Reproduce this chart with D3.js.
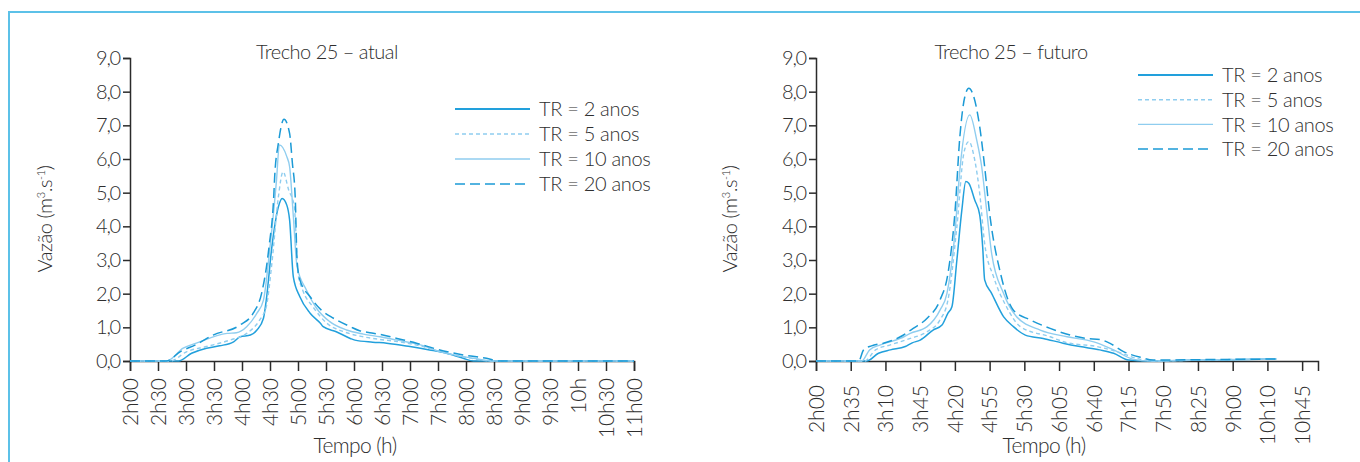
<!DOCTYPE html>
<html>
<head>
<meta charset="utf-8">
<script src="https://cdn.jsdelivr.net/npm/d3@7"></script>
<style>
  html, body { margin: 0; padding: 0; background: #fff; }
  svg { display: block; }
  text { font-family: Lato, "Open Sans", sans-serif; font-weight: 300; fill: #2e2e2e; }
</style>
</head>
<body>
<svg id="chart" width="1360" height="462"></svg>
<script>
// ---------- DATA (time in minutes after midnight, flow in m3/s) ----------
const seriesNames = ["TR = 2 anos", "TR = 5 anos", "TR = 10 anos", "TR = 20 anos"];

const leftTitle = "Trecho 25 – atual";
const rightTitle = "Trecho 25 – futuro";

const leftTickValues = [120,150,180,210,240,270,300,330,360,390,420,450,480,510,540,570,600,630,660];
const leftTickLabels = ["2h00","2h30","3h00","3h30","4h00","4h30","5h00","5h30","6h00","6h30","7h00","7h30","8h00","8h30","9h00","9h30","10h","10h30","11h00"];

const rightTickValues = [120,155,190,225,260,295,330,365,400,435,470,505,540,575,610];
const rightTickLabels = ["2h00","2h35","3h10","3h45","4h20","4h55","5h30","6h05","6h40","7h15","7h50","8h25","9h00","10h10","10h45"];

const yTickValues = [0,1,2,3,4,5,6,7,8,9];

// Trecho 25 - atual
const atualTR2 = [[120,0],[172,0],[186,0.23],[202,0.38],[216,0.45],[231,0.57],[238,0.72],[249,0.77],[256,0.92],[263,1.27],[266,1.81],[272,3.39],[279,4.58],[283,4.83],[288,4.63],[291,4.19],[295,2.50],[302,1.91],[313,1.42],[324,1.12],[327,1.02],[341,0.87],[356,0.67],[361,0.62],[380,0.56],[395,0.53],[420,0.43],[441,0.33],[459,0.23],[477,0.08],[488,0],[660,0]];
const atualTR5 = [[120,0],[163,0],[181,0.28],[202,0.43],[227,0.62],[245,0.82],[259,1.22],[266,1.61],[272,2.90],[279,4.88],[284,5.62],[290,5.08],[296,4.60],[300,2.60],[305,2.11],[316,1.61],[331,1.12],[349,0.87],[370,0.72],[388,0.64],[406,0.58],[431,0.45],[452,0.28],[488,0.07],[506,0],[660,0]];
const atualTR10 = [[120,0],[159,0],[177,0.38],[191,0.53],[224,0.82],[234,0.84],[245,1.02],[256,1.42],[263,1.81],[270,3.39],[277,5.38],[280,6.42],[288,6.07],[291,5.77],[295,4.30],[299,2.80],[309,2.11],[320,1.56],[334,1.17],[352,0.92],[370,0.80],[388,0.72],[406,0.62],[431,0.48],[452,0.28],[488,0.08],[509,0],[660,0]];
const atualTR20 = [[120,0],[159,0],[174,0.28],[191,0.49],[209,0.77],[238,1.07],[252,1.42],[261,2.01],[269,3.40],[274,4.88],[275,5.47],[279,6.47],[285,7.18],[291,6.76],[294,5.87],[297,4.88],[299,3.00],[302,2.41],[313,1.91],[325,1.51],[338,1.27],[356,1.02],[366,0.90],[377,0.84],[388,0.79],[406,0.67],[427,0.53],[449,0.35],[477,0.18],[502,0.08],[516,0],[660,0]];

// Trecho 25 - futuro
const futuroTR2 = [[120,0],[171,0],[183,0.23],[195,0.33],[210,0.43],[217,0.54],[225,0.62],[238,0.92],[247,1.07],[253,1.42],[257,1.61],[262,3.00],[267,4.48],[271,5.33],[274,5.28],[280,4.78],[285,4.34],[288,3.39],[290,2.41],[297,2.01],[309,1.32],[319,1.02],[331,0.77],[349,0.67],[369,0.53],[386,0.43],[406,0.33],[420,0.23],[435,0.03],[454,0],[507,0.03],[541,0.04],[584,0.06]];
const futuroTR5 = [[120,0],[169,0],[180,0.33],[195,0.48],[215,0.67],[232,0.87],[245,1.22],[253,1.81],[262,3.99],[269,6.17],[274,6.52],[280,5.97],[285,4.98],[290,3.49],[299,2.50],[312,1.61],[326,1.02],[356,0.72],[372,0.55],[403,0.43],[423,0.28],[447,0.05],[460,0],[507,0.03],[584,0.06]];
const futuroTR10 = [[120,0],[166,0],[174,0.33],[185,0.48],[205,0.67],[215,0.82],[232,1.02],[245,1.51],[252,2.01],[260,3.79],[265,5.67],[275,7.31],[282,6.56],[287,5.77],[292,4.48],[297,3.20],[309,2.01],[322,1.32],[346,0.92],[373,0.72],[400,0.57],[420,0.33],[440,0.05],[457,0],[507,0.03],[584,0.06]];
const futuroTR20 = [[120,0],[163,0],[168,0.33],[176,0.45],[188,0.53],[205,0.72],[218,0.97],[232,1.27],[245,1.81],[253,2.60],[260,4.39],[265,6.66],[270,7.85],[274,8.10],[279,7.85],[285,6.96],[290,5.77],[295,4.39],[306,2.60],[319,1.51],[336,1.22],[356,0.97],[376,0.77],[393,0.67],[406,0.64],[416,0.53],[430,0.28],[447,0.11],[460,0.03],[507,0.04],[584,0.06]];

// ---------- STYLES ----------
const styles = [
  { color: "#22a0dc", width: 1.5, dash: null },
  { color: "#8fcdef", width: 1.4, dash: "4,3" },
  { color: "#8fcdef", width: 1.4, dash: null },
  { color: "#1b9ad6", width: 1.5, dash: "10,5" }
];
const FONT = "Lato, sans-serif";

const svg = d3.select("#chart");

// frame
svg.append("line").attr("x1", 8).attr("x2", 1360).attr("y1", 12).attr("y2", 12)
  .attr("stroke", "#5cc1e8").attr("stroke-width", 2);
svg.append("line").attr("x1", 9).attr("x2", 9).attr("y1", 11).attr("y2", 462)
  .attr("stroke", "#5cc1e8").attr("stroke-width", 2);

function drawPanel(cfg) {
  const g = svg.append("g");
  const x = d3.scaleLinear().domain(cfg.xDomain).range(cfg.xRange);
  const y = d3.scaleLinear().domain([0, 9]).range([361, 58]);

  // y axis
  const yAxis = d3.axisLeft(y).tickValues(yTickValues).tickSize(7).tickPadding(3)
    .tickFormat(d => d.toFixed(1).replace(".", ","));
  const gy = g.append("g").attr("transform", `translate(${cfg.xRange[0]},0)`).call(yAxis);
  gy.select(".domain").attr("stroke", "#2b2b2b").attr("stroke-width", 1.5);
  gy.selectAll(".tick line").attr("stroke", "#2b2b2b").attr("stroke-width", 1.5);
  gy.selectAll(".tick text").style("font-size", "20px").style("letter-spacing", "-1.2px")
    .style("font-family", FONT).style("font-weight", 300).attr("fill", "#2e2e2e");

  // x axis
  const xAxis = d3.axisBottom(x).tickValues(cfg.tickValues).tickSize(10)
    .tickFormat((d, i) => cfg.tickLabels[i]);
  const gx = g.append("g").attr("transform", "translate(0,361)").call(xAxis);
  gx.select(".domain").attr("stroke", "#2b2b2b").attr("stroke-width", 1.5);
  gx.selectAll(".tick line").attr("stroke", "#2b2b2b").attr("stroke-width", 1.5);
  gx.selectAll(".tick text")
    .style("font-size", "21px").style("font-family", FONT).style("font-weight", 300)
    .attr("fill", "#2e2e2e")
    .attr("text-anchor", "end")
    .attr("transform", "rotate(-90)")
    .attr("x", -cfg.labelOffset).attr("y", 0).attr("dy", "0.35em");

  // series
  const line = d3.line().x(d => x(d[0])).y(d => y(d[1])).curve(d3.curveMonotoneX);
  cfg.series.forEach((s, i) => {
    g.append("path").datum(s)
      .attr("d", line)
      .attr("fill", "none")
      .attr("stroke", styles[i].color)
      .attr("stroke-width", styles[i].width)
      .attr("stroke-dasharray", styles[i].dash)
      .attr("stroke-linejoin", "round");
  });

  // title
  g.append("text").attr("x", cfg.titleX).attr("y", 59).attr("text-anchor", "middle")
    .style("font-size", "20px").style("letter-spacing", "-0.5px").text(cfg.title);

  // x axis title
  g.append("text").attr("x", cfg.xTitleX).attr("y", 453).attr("text-anchor", "middle")
    .style("font-size", "21px").style("letter-spacing", "-0.6px").text("Tempo (h)");

  // y axis title
  const yt = g.append("text")
    .attr("transform", `translate(${cfg.yTitleX},219) rotate(-90)`)
    .attr("text-anchor", "middle").style("font-size", "20px").style("letter-spacing", "-0.4px");
  yt.append("tspan").text("Vazão (m");
  yt.append("tspan").attr("dy", -7).style("font-size", "11px").text("3");
  yt.append("tspan").attr("dy", 7).text(".s");
  yt.append("tspan").attr("dy", -7).style("font-size", "11px").text("-1");
  yt.append("tspan").attr("dy", 7).text(")");

  // legend
  seriesNames.forEach((name, i) => {
    const ly = cfg.legendY + i * cfg.legendStep;
    g.append("line").attr("x1", cfg.legendX).attr("x2", cfg.legendX + 75)
      .attr("y1", ly).attr("y2", ly)
      .attr("stroke", styles[i].color)
      .attr("stroke-width", i === 0 ? 2 : styles[i].width)
      .attr("stroke-dasharray", styles[i].dash);
    g.append("text").attr("x", cfg.legendX + 84).attr("y", ly).attr("dy", "0.36em")
      .style("font-size", "20px").style("letter-spacing", "-0.3px").text(name);
  });
}

drawPanel({
  xDomain: [120, 660], xRange: [130, 634],
  tickValues: leftTickValues, tickLabels: leftTickLabels, labelOffset: 17,
  series: [atualTR2, atualTR5, atualTR10, atualTR20],
  title: leftTitle, titleX: 327, xTitleX: 355, yTitleX: 52,
  legendX: 455, legendY: 109, legendStep: 25
});

drawPanel({
  xDomain: [120, 626], xRange: [816, 1318],
  tickValues: rightTickValues, tickLabels: rightTickLabels, labelOffset: 24,
  series: [futuroTR2, futuroTR5, futuroTR10, futuroTR20],
  title: rightTitle, titleX: 1011, xTitleX: 1044, yTitleX: 737,
  legendX: 1138, legendY: 75, legendStep: 24.7
});
</script>
</body>
</html>
